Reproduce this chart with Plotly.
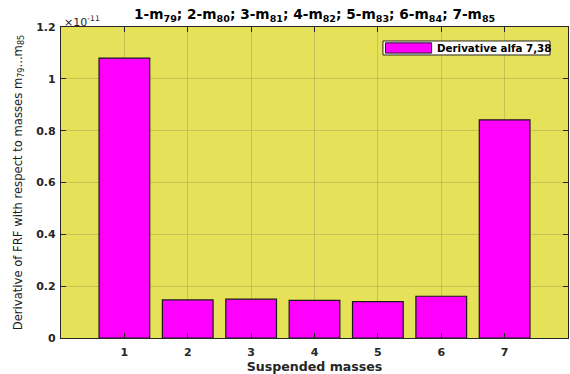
import plotly.graph_objects as go

categories = [1, 2, 3, 4, 5, 6, 7]
values = [1.08, 0.147, 0.150, 0.145, 0.140, 0.161, 0.842]  # x 1e-11
series_name = "Derivative alfa 7,38"
y_ticks = [0, 0.2, 0.4, 0.6, 0.8, 1.0, 1.2]
y_tick_labels = ["0", "0.2", "0.4", "0.6", "0.8", "1", "1.2"]
title_text = "1-m<sub>79</sub>; 2-m<sub>80</sub>; 3-m<sub>81</sub>; 4-m<sub>82</sub>; 5-m<sub>83</sub>; 6-m<sub>84</sub>; 7-m<sub>85</sub>"

FONT = "DejaVu Sans"
AX = "#262626"
BG = "rgb(229,225,89)"

fig = go.Figure()
fig.add_trace(go.Bar(
    x=categories, y=values, name=series_name, width=0.8,
    marker=dict(color="#FF00FF", line=dict(color="#1a1a1a", width=1.2)),
    showlegend=False,
))

axis_common = dict(showline=True, linecolor=AX, linewidth=1.3, mirror="ticks",
                   ticks="inside", ticklen=5, tickcolor=AX, tickwidth=1.3,
                   showgrid=True, gridcolor="rgba(60,60,60,0.18)", gridwidth=1,
                   zeroline=False,
                   tickfont=dict(family=FONT, size=11, color=AX, weight="bold"))

fig.update_xaxes(range=[0, 8], tickvals=categories, ticktext=[str(c) for c in categories],
                 ticklabelstandoff=4,
                 title=dict(text="<b>Suspended masses</b>", font=dict(family=FONT, size=12.6, color=AX), standoff=5),
                 **axis_common)
fig.update_yaxes(range=[0, 1.2], tickvals=y_ticks, ticktext=y_tick_labels,
                 ticklabelstandoff=2,
                 title=dict(text="Derivative of FRF with respect to masses m<sub>79</sub>...m<sub>85</sub>",
                            font=dict(family=FONT, size=11.6, color="#1a1a1a"), standoff=11),
                 **axis_common)

fig.update_layout(
    width=570, height=374,
    margin=dict(l=61, r=2, t=27, b=36),
    paper_bgcolor="white", plot_bgcolor=BG,
    title=dict(text="<b>" + title_text + "</b>", x=0.552, xanchor="center", y=0.961, yanchor="middle",
               font=dict(family=FONT, size=13.7, color="black")),
    bargap=0.2,
)

# exponent label
fig.add_annotation(xref="paper", yref="paper", x=0.002, y=1.0, xanchor="left", yanchor="bottom",
                   text="×10<sup>-11</sup>", showarrow=False,
                   font=dict(family=FONT, size=11, color=AX), yshift=-4)

# manual legend
fig.add_shape(type="rect", xref="paper", yref="paper", x0=0.635, x1=0.9645, y0=0.910, y1=0.955,
              fillcolor="white", line=dict(color=AX, width=1))
fig.add_shape(type="rect", xref="paper", yref="paper", x0=0.640, x1=0.731, y0=0.916, y1=0.949,
              fillcolor="#FF00FF", line=dict(color="#1a1a1a", width=1))
fig.add_annotation(xref="paper", yref="paper", x=0.737, y=0.9325, xanchor="left", yanchor="middle",
                   text="<b>" + series_name + "</b>", showarrow=False,
                   font=dict(family=FONT, size=10.3, color="black"))

fig.write_html("out.html")
